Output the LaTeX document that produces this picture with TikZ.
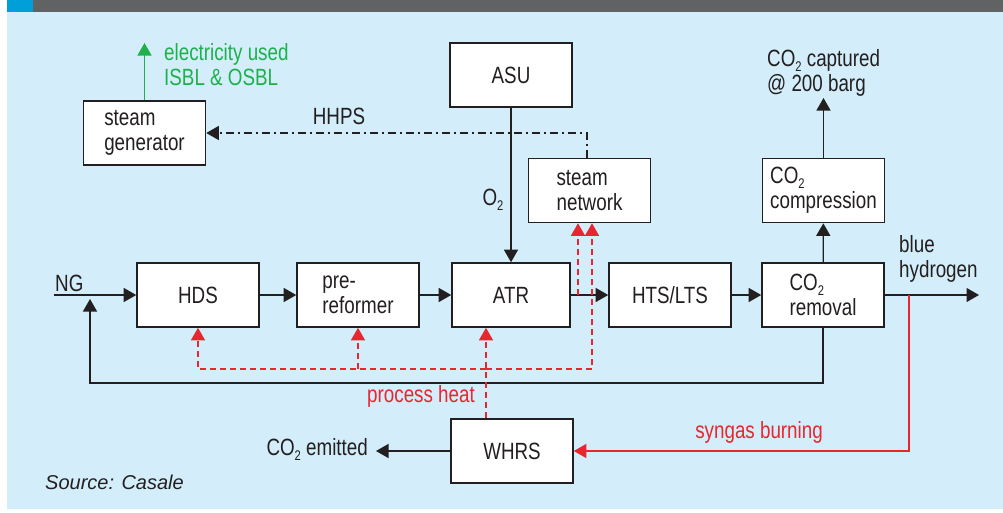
\documentclass[tikz,border=0pt]{standalone}
\usepackage{fontspec}
\setmainfont{Liberation Sans}[FakeStretch=0.8]
\newfontfamily\srcfont{Liberation Sans}
\usetikzlibrary{arrows.meta}
\definecolor{bgblue}{HTML}{D3EEFA}
\definecolor{hdgray}{HTML}{616264}
\definecolor{hdblue}{HTML}{009FD9}
\definecolor{ink}{HTML}{231F20}
\definecolor{heatred}{HTML}{E8262E}
\definecolor{elgreen}{HTML}{1DB04B}
\newcommand{\sub}[1]{\raisebox{-0.4ex}[0pt][0pt]{\fontsize{14}{14}\selectfont #1}}

\begin{document}
\begin{tikzpicture}[x=1pt,y=-1pt,
  font=\fontsize{23.5}{25}\selectfont, text=ink,
  box/.style={draw=ink, fill=white, line width=1.6pt, align=left,
    minimum width=122pt, minimum height=64pt, inner sep=0pt},
  tip/.style={-{Triangle[length=12.5pt,width=14pt]}},
  flow/.style={draw=ink, line width=1.3pt, tip},
  heat/.style={draw=heatred, line width=1.3pt, dash pattern=on 6pt off 4pt, tip},
  lbl/.style={inner sep=0pt, align=left}]
  \useasboundingbox (0,0) rectangle (1003,512);
  \fill[bgblue] (7,12) rectangle (1003,509);
  \fill[hdgray] (7,0) rectangle (1003,12);
  \fill[hdblue] (7,0) rectangle (33,12);

  \node[box] (sg) at (144.5,133) {steam\\generator};
  \node[box] (asu) at (511,75) {ASU};
  \node[box] (sn) at (589.5,190.5) {steam\\network};
  \node[box] (comp) at (823.5,190.5) {CO\sub{2}\\compression};
  \node[box] (hds) at (198,295) {HDS};
  \node[box] (pre) at (358,295) {pre-\\reformer};
  \node[box, minimum width=118pt] (atr) at (511,295) {ATR};
  \node[box] (hts) at (670,295) {HTS/LTS};
  \node[box] (rem) at (823,295) {CO\sub{2}\\removal};
  \node[box] (whrs) at (512,451) {WHRS};

  \coordinate (ng) at (54,295);
  \coordinate (h2) at (979,295);
  \coordinate (cc) at (823.5,98);
  \coordinate (el) at (144.5,43);
  \coordinate (fb) at (90,383);
  \coordinate (hj) at (486,369);
  \coordinate (sb) at (909,295);
  \coordinate (em) at (376,451);

  \draw[flow] (ng) -- (hds);
  \draw[flow] (hds) -- (pre);
  \draw[flow] (pre) -- (atr);
  \draw[flow] (atr) -- (hts);
  \draw[flow] (hts) -- (rem);
  \draw[flow] (rem) -- (h2);
  \draw[flow] (rem) -- (comp);
  \draw[flow] (comp) -- (cc);
  \draw[flow] (asu) -- (atr);
  \draw[flow, shorten >=4pt] (rem.south) |- (fb) -- (fb |- ng);
  \draw[flow] (whrs) -- (em);
  \draw[elgreen, line width=1.3pt, tip] (sg) -- (el);
  \draw[flow, dash pattern=on 8pt off 4pt on 2pt off 4pt]
    ([xshift=-2.5pt]sn.north) |- (sg.east);

  \draw[heat] (whrs.north -| hj) -- (hj |- atr.south);
  \draw[heat] (hj) -| (hds.south);
  \draw[heat] (pre.south |- hj) -- (pre.south);
  \draw[heat] (hj) -| ([xshift=2.5pt]sn.south);
  \draw[heat] ([xshift=-11.5pt]sn.south |- atr.east) -- ([xshift=-11.5pt]sn.south);
  \draw[draw=heatred, line width=1.3pt, tip] (sb) |- (whrs);

  \node[lbl, text=elgreen, anchor=west] (elec) at (164,65) {electricity used\\ISBL \& OSBL};
  \node[lbl] (hhps) at (339,116) {HHPS};
  \node[lbl] (o2) at (493,197) {O\sub{2}};
  \node[lbl, anchor=west] (capt) at (767,73) {CO\sub{2} captured\\@ 200 barg};
  \node[lbl, anchor=base west] (nglbl) at (55,291) {NG};
  \node[lbl, anchor=west] (blue) at (899,259) {blue\\hydrogen};
  \node[lbl, text=heatred] (ph) at (421,396) {process heat};
  \node[lbl, text=heatred, anchor=east] (sgb) at (823,432) {syngas burning};
  \node[lbl, anchor=east] (emt) at (368,447) {CO\sub{2} emitted};
  \node[lbl, anchor=west, font=\srcfont\fontsize{20}{22}\selectfont\itshape] (src) at (45,482) {Source: Casale};
\end{tikzpicture}
\end{document}
